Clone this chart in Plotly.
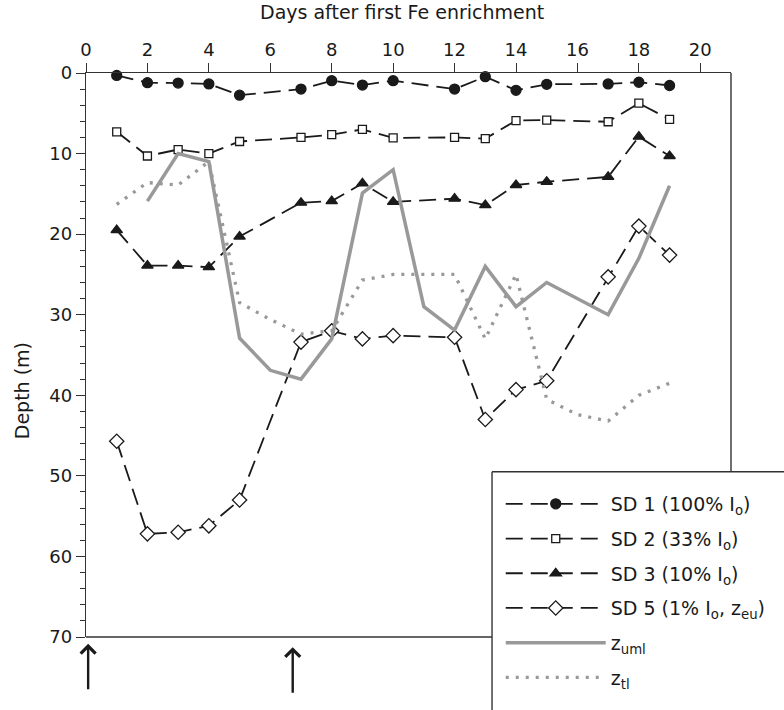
import plotly.graph_objects as go

# ---- data ----
sd_days = [1, 2, 3, 4, 5, 7, 8, 9, 10, 12, 13, 14, 15, 17, 18, 19]
sd1 = [0.3, 1.2, 1.25, 1.35, 2.75, 2.0, 0.95, 1.5, 0.95, 2.0, 0.45, 2.15, 1.4, 1.35, 1.15, 1.55]
sd2 = [7.3, 10.3, 9.5, 10.0, 8.5, 8.0, 7.65, 7.0, 8.05, 8.0, 8.15, 5.9, 5.85, 6.05, 3.75, 5.75]
sd3 = [19.5, 23.9, 23.9, 24.1, 20.3, 16.1, 15.9, 13.7, 16.0, 15.6, 16.4, 13.9, 13.5, 12.9, 7.9, 10.3]
sd5 = [45.7, 57.2, 57.0, 56.2, 53.0, 33.4, 32.0, 33.0, 32.6, 32.8, 43.0, 39.3, 38.2, 25.3, 19.0, 22.6]

uml_days = [2, 3, 4, 5, 6, 7, 8, 9, 10, 11, 12, 13, 14, 15, 17, 18, 19]
z_uml = [15.9, 10.0, 11.0, 32.9, 36.9, 38.0, 33.0, 14.9, 12.0, 29.0, 31.9, 24.0, 29.0, 26.0, 30.0, 23.0, 14.0]

tl_days = [1, 2, 3, 4, 5, 6, 7, 8, 9, 10, 11, 12, 13, 14, 15, 16, 17, 18, 19]
z_tl = [16.3, 13.6, 13.9, 11.0, 28.5, 30.6, 32.4, 32.0, 25.7, 25.0, 25.0, 25.0, 33.0, 25.0, 40.5, 42.4, 43.2, 40.0, 38.5]

fe_days = [0.07, 6.73]   # arrows marking Fe enrichments

names = ["SD 1 (100% I<sub>o</sub>)", "SD 2 (33% I<sub>o</sub>)", "SD 3 (10% I<sub>o</sub>)",
         "SD 5 (1% I<sub>o</sub>, z<sub>eu</sub>)", "z<sub>uml</sub>", "z<sub>tl</sub>"]

x_ticks = list(range(0, 21, 2))
y_ticks = list(range(0, 71, 10))

# ---- styling ----
FONT = "DejaVu Sans"
INK = "#1a1a1a"
GREY = "#999999"
DASH = "17px,8px"

fig = go.Figure()

sd_series = [(sd1, "circle", INK, 10), (sd2, "square", "white", 8),
             (sd3, "triangle-up", INK, 10), (sd5, "diamond", "white", 11)]
for i, (vals, sym, fill, size) in enumerate(sd_series):
    fig.add_trace(go.Scatter(
        x=sd_days, y=vals, name=names[i], mode="lines+markers", legendgroup=str(i),
        line=dict(color=INK, width=1.8, dash=DASH),
        marker=dict(symbol=sym, size=size, color=fill, line=dict(color=INK, width=1.3)),
        cliponaxis=False))

fig.add_trace(go.Scatter(x=uml_days, y=z_uml, name=names[4], mode="lines", legendgroup="4",
                         line=dict(color=GREY, width=3.5)))
fig.add_trace(go.Scatter(x=tl_days, y=z_tl, name=names[5], mode="lines", legendgroup="5",
                         line=dict(color=GREY, width=3.3, dash="3px,7px")))

# arrows below the axis (tips just under the bottom of the frame)
for d, tip in zip(fe_days, [-0.012, -0.018]):
    fig.add_annotation(x=d, y=tip, xref="x", yref="paper", ax=0, ay=47, axref="pixel", ayref="pixel",
                       text="", showarrow=True, arrowhead=4, arrowsize=1.2, arrowwidth=2.4,
                       arrowcolor=INK)

# axis titles
fig.add_annotation(text="Days after first Fe enrichment", xref="paper", yref="paper",
                   x=0.4896, y=1.109, showarrow=False, xanchor="center", yanchor="middle",
                   font=dict(size=19, family=FONT, color=INK))
fig.add_annotation(text="Depth (m)", xref="paper", yref="paper", x=-0.099, y=0.436,
                   showarrow=False, textangle=-90, xanchor="center", yanchor="middle",
                   font=dict(size=19, family=FONT, color=INK))

leg_x0, leg_y0 = 0.6295, 0.2929
line_style = dict(color="#333333", width=1.4)
# right border of the frame down to the legend box, bottom border up to the legend box
fig.add_shape(type="line", xref="paper", yref="paper", x0=1, x1=1, y0=1, y1=leg_y0, line=line_style)
fig.add_shape(type="line", xref="paper", yref="paper", x0=0, x1=leg_x0, y0=0, y1=0, line=line_style)
# legend box (runs off the page at right and bottom)
fig.add_shape(type="line", xref="paper", yref="paper", x0=leg_x0, x1=leg_x0, y0=leg_y0, y1=-0.4, line=line_style)
fig.add_shape(type="line", xref="paper", yref="paper", x0=leg_x0, x1=1.2, y0=leg_y0, y1=leg_y0, line=line_style)

fig.update_layout(
    width=784, height=710,
    margin=dict(l=86, r=53, t=73, b=73, autoexpand=False),
    paper_bgcolor="white", plot_bgcolor="white",
    font=dict(family=FONT, size=18, color=INK),
    showlegend=True,
    legend=dict(x=0.643, y=0.2695, xanchor="left", yanchor="top", bgcolor="rgba(0,0,0,0)",
                borderwidth=0, font=dict(size=19, family=FONT, color=INK),
                itemwidth=100, tracegroupgap=7, traceorder="grouped"),
    xaxis=dict(range=[0, 21], side="top", tickvals=x_ticks, ticks="outside", ticklen=9,
               tickwidth=1.4, tickcolor="#333333", showline=True, linecolor="#333333",
               linewidth=1.4, showgrid=False, zeroline=False, tickfont=dict(size=18)),
    yaxis=dict(range=[70, 0], tickvals=y_ticks, ticks="outside", ticklen=9, tickwidth=1.4,
               tickcolor="#333333", showline=True, linecolor="#333333", linewidth=1.4,
               showgrid=False, zeroline=False, tickfont=dict(size=18),
               minor=dict(dtick=2, ticks="outside", ticklen=5, tickwidth=1.2, tickcolor="#333333")),
)

fig.write_html("out.html", config={"displayModeBar": False},
               post_script="document.body.style.margin='0px';")
